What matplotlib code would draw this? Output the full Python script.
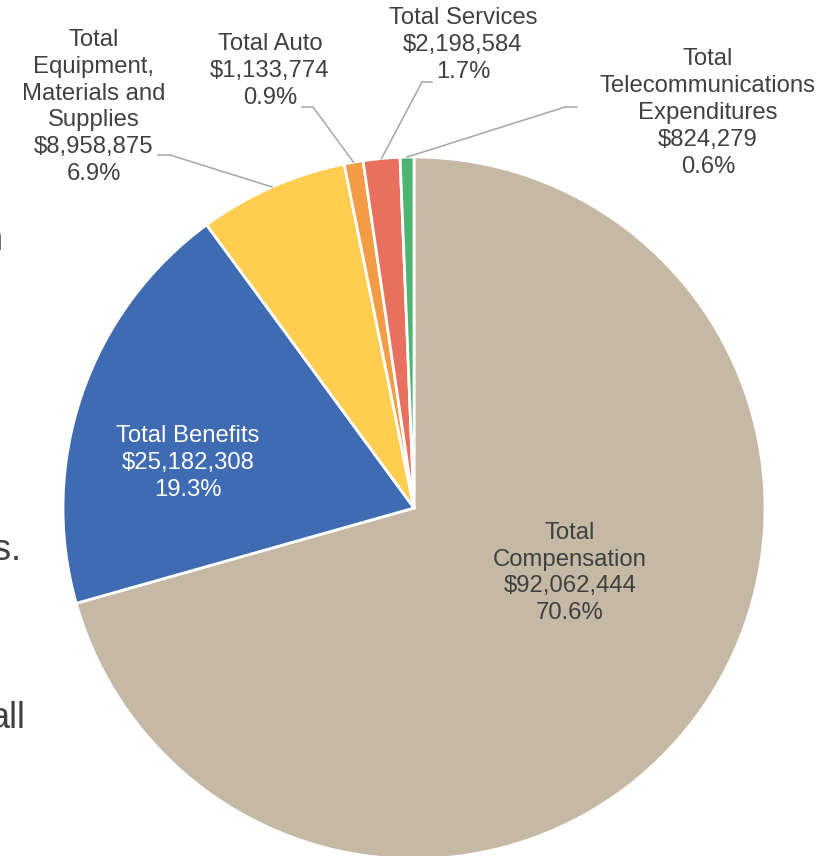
import math
import matplotlib.pyplot as plt

plt.rcParams["font.family"] = ["Liberation Sans", "DejaVu Sans"]

categories = ["Total\nCompensation", "Total Benefits",
              "Total\nEquipment,\nMaterials and\nSupplies", "Total Auto",
              "Total Services", "Total\nTelecommunications\nExpenditures"]
amounts = [92062444, 25182308, 8958875, 1133774, 2198584, 824279]
colors = ["#C5B8A5", "#3F6BB3", "#FFCD50", "#F29C46", "#E8705F", "#4CB572"]

# label centres and leader elbows, in pixels from the top-left corner
label_pos = [(570, 573), (188, 463), (94, 107), (270, 71), (463, 45), (708, 113)]
leaders = [None, None, [(158, 155), (170, 155)], [(302, 107), (313, 107)],
           [(432, 82), (422, 82)], [(577, 107), (565, 107)]]
text_colors = ["#404040", "white", "#404040", "#404040", "#404040", "#404040"]

W, H = 823, 856
fig = plt.figure(figsize=(W / 100, H / 100), dpi=100)
ax = fig.add_axes([0, 0, 1, 1])
cx, cy, r = 414, H - 508, 351

wedges, _ = ax.pie(amounts, colors=colors, startangle=90, counterclock=False,
                   center=(cx, cy), radius=r,
                   wedgeprops=dict(edgecolor="white", linewidth=2))
ax.set_xlim(0, W)
ax.set_ylim(0, H)
ax.set_aspect("equal")
ax.axis("off")

total = sum(amounts)
for i, (name, v) in enumerate(zip(categories, amounts)):
    txt = f"{name}\n${v:,.0f}\n{100 * v / total:.1f}%"
    x, y = label_pos[i]
    ax.text(x, H - y, txt, ha="center", va="center", fontsize=17.2,
            color=text_colors[i], linespacing=1.29)
    if leaders[i]:
        # leader runs from the label to the middle of the wedge's outer edge
        w = wedges[i]
        a = math.radians((w.theta1 + w.theta2) / 2)
        ex, ey = cx + r * math.cos(a), cy + r * math.sin(a)
        (sx, sy), (bx, by) = leaders[i]
        ax.plot([sx, bx, ex], [H - sy, H - by, ey], color="#A6A6A6", lw=1.1,
                solid_joinstyle="miter")

# bits of slide text cut off at the left edge
for s, x, y in [("n", 3, 250), ("s.", 21, 560), ("all", 25, 728)]:
    ax.text(x, H - y, s, ha="right", va="baseline", fontsize=26, color="#404040")

fig.savefig("out.png", dpi=100)
